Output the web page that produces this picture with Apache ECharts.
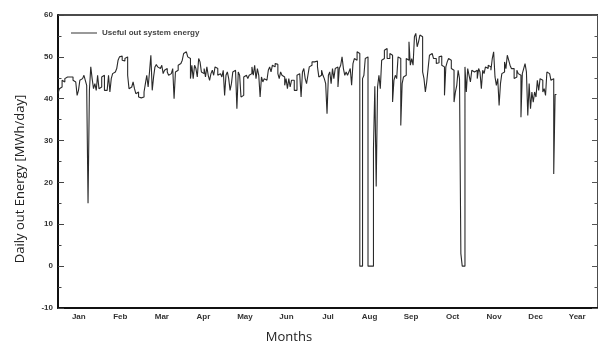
<!DOCTYPE html>
<html>
<head>
<meta charset="utf-8">
<style>
    html, body { margin: 0; padding: 0; background: #fff; }
    #chart { width: 598px; height: 343px; }
</style>
<script src="https://cdn.jsdelivr.net/npm/echarts@6/dist/echarts.min.js"></script>
</head>
<body>
<div id="chart"></div>
<script>
    // daily useful energy, MWh/day, read per month
    var months = ['Jan', 'Feb', 'Mar', 'Apr', 'May', 'Jun', 'Jul', 'Aug', 'Sep', 'Oct', 'Nov', 'Dec', 'Year'];
    var yTicks = [-10, 60, 10];

    var jan = [41.2,42.4,42.8,44.4,44,44.8,45.2,44.8,45.2,44.8,45.2,44.4,44,43.6,40.8,42,44.4,44.8,45.2,45.6,44.4,43.2,15,42,47.6,44.8,42.4,43.6,42,45.6,42.4];
    var feb = [42.8,45.2,45.6,42,42,41.6,45.6,41.6,44.8,46,46.4,46.8,47.2,49.2,50,50.2,49.2,49,49.6,50,45.6,42.4,42.8,43.2,44,42.4,41.2,41.6];
    var mar = [40.4,40.2,40.2,40.4,41.6,43.6,45.6,42.8,46.4,50.4,42,45.2,47.6,48.2,47.6,47.2,46.8,48,46,46.8,47.2,46.4,45.6,46,45.6,47.2,40,46.4,46.8,48,48.4];
    var apr = [48.8,49.2,50.8,51.2,51,50,49.6,44.8,48,44.8,48,47.2,45.2,49.6,48.8,46.4,46,47.2,45.2,47.6,45.6,44.4,46,46.8,45.6,47.6,47.2,45.6,46,46.4];
    var may = [45.2,46.8,40.8,45.6,46.4,44.8,42,43.6,46.4,46.8,47.2,37.6,46.4,45.6,40.4,40.8,45.2,45.6,45.2,44.8,45.6,46,47.6,45.6,48,44.8,47.2,45.6,40.4,45.2,44];
    var jun = [44.8,44.4,44.4,46.8,47.6,46.4,48,47.6,48.4,48.2,46,44.8,46.4,45.6,45.2,43.2,44.8,42.4,44.8,42.8,44.4,44.4,42,42,45.6,46,45.6,40.4,46.4,47.2];
    var jul = [44.8,43.6,45.6,47.6,48,48.8,48.8,49.2,49,47.6,45.2,45.6,46.8,45.6,44.8,43.6,36.4,45.6,46.4,43.6,47.2,44.8,47.2,47.6,42.8,47.2,48,50,47.2,45.6,46.4];
    var aug = [45.6,46.4,47.2,43.2,48.4,49.6,49.2,51.2,50.8,0,0,44.8,45.6,49.6,50,0,0,0,0,28,43,19,42.8,45.6,42.4,49.2,49.6,51.6,52,49.6,49.6];
    var sep = [50.8,50.4,39.2,44.4,45.6,44.8,50,49.6,33.6,43.6,45.2,45.6,49.6,49.2,53.6,48,49.6,48,54.8,55.6,52.4,53.6,55.2,54.8,46.4,44.8,41.6,44,47.2,50.4];
    var oct = [50.8,50.4,49.6,49.6,48.4,48.6,50,50.2,48,47.6,40.8,47.6,48.8,49.6,49.2,47.2,46.8,39.2,41.6,43.2,46.8,44.8,3,0,0,47.6,41.6,47.2,45.6,44,46.8];
    var nov = [46.4,46,46.8,44.8,47.2,46.4,42.4,46.8,46,47.6,47.2,48,47.6,46.8,49.6,51.2,45.2,43.2,44.8,38.4,43.6,46,46.4,48.8,47.2,50.4,49.2,48,47.2,47.2];
    var dec = [44.8,45.2,46.8,46,45.6,35.6,46,47.2,48.4,46.4,36,43.6,37.6,41.6,39.2,41.6,40.4,44.4,42,44.8,44.4,41.6,42.4,40.8,46.4,46,45.6,44.4,44.8,22,41];

    var daily = [].concat(jan, feb, mar, apr, may, jun, jul, aug, sep, oct, nov, dec);
    var points = daily.map(function (v, i) { return [i, v]; });
    points.push([daily.length, daily[daily.length - 1]]);

    var font = 'Liberation Sans, Arial, sans-serif';
    var labelStyle = { fontSize: 8, fontWeight: 'bold', color: '#333', fontFamily: font };

    var chart = echarts.init(document.getElementById('chart'), null, { renderer: 'canvas' });
    chart.setOption({
        animation: false,
        backgroundColor: '#fff',
        grid: { left: 58, top: 15, width: 542, height: 293 },
        legend: {
            left: 66, top: 24,
            icon: 'rect',
            itemWidth: 26, itemHeight: 1.2, itemGap: 5,
            textStyle: { fontSize: 8, fontWeight: 'bold', color: '#444', fontFamily: font },
            data: ['Useful out system energy']
        },
        xAxis: [{
            type: 'category', position: 'bottom', data: months, boundaryGap: true,
            axisLine: { onZero: false, lineStyle: { color: '#111', width: 2 } },
            axisTick: { inside: true, length: 5, interval: 0, lineStyle: { color: '#333' } },
            axisLabel: Object.assign({ interval: 0, margin: 5 }, labelStyle),
            splitLine: { show: false }
        }, {
            type: 'category', position: 'top', data: months, boundaryGap: true,
            axisLine: { onZero: false, lineStyle: { color: '#111', width: 1.5 } },
            axisTick: { inside: true, length: 5, interval: 0, lineStyle: { color: '#333' } },
            axisLabel: { show: false },
            splitLine: { show: false }
        }, {
            type: 'value', min: 0, max: 365 * 13 / 12, show: false
        }],
        yAxis: [{
            type: 'value', position: 'left', min: yTicks[0], max: yTicks[1], interval: yTicks[2],
            axisLine: { show: true, onZero: false, lineStyle: { color: '#111', width: 2 } },
            axisTick: { inside: true, length: 6, lineStyle: { color: '#444' } },
            minorTick: { show: true, splitNumber: 2, length: 3.5, lineStyle: { color: '#444' } },
            axisLabel: Object.assign({ margin: 5 }, labelStyle),
            splitLine: { show: false }
        }, {
            type: 'value', position: 'right', min: yTicks[0], max: yTicks[1], interval: yTicks[2],
            axisLine: { show: true, onZero: false, lineStyle: { color: '#111', width: 1.5 } },
            axisTick: { inside: true, length: 6, lineStyle: { color: '#555' } },
            minorTick: { show: true, splitNumber: 2, length: 3.5, lineStyle: { color: '#555' } },
            axisLabel: { show: false },
            splitLine: { show: false }
        }],
        graphic: [{
            type: 'text', x: 20, y: 179, rotation: Math.PI / 2,
            style: {
                text: 'Daily out Energy [MWh/day]', fill: '#222',
                font: '13px "Open Sans", sans-serif', align: 'center', verticalAlign: 'middle'
            }
        }, {
            type: 'text', x: 289, y: 337,
            style: {
                text: 'Months', fill: '#222',
                font: '13px "Open Sans", sans-serif', align: 'center', verticalAlign: 'middle'
            }
        }],
        series: [{
            name: 'Useful out system energy',
            type: 'line',
            xAxisIndex: 2,
            yAxisIndex: 0,
            step: 'end',
            symbol: 'none',
            lineStyle: { color: '#2a2a2a', width: 1.1 },
            itemStyle: { color: '#555' },
            data: points
        }]
    });
</script>
</body>
</html>
